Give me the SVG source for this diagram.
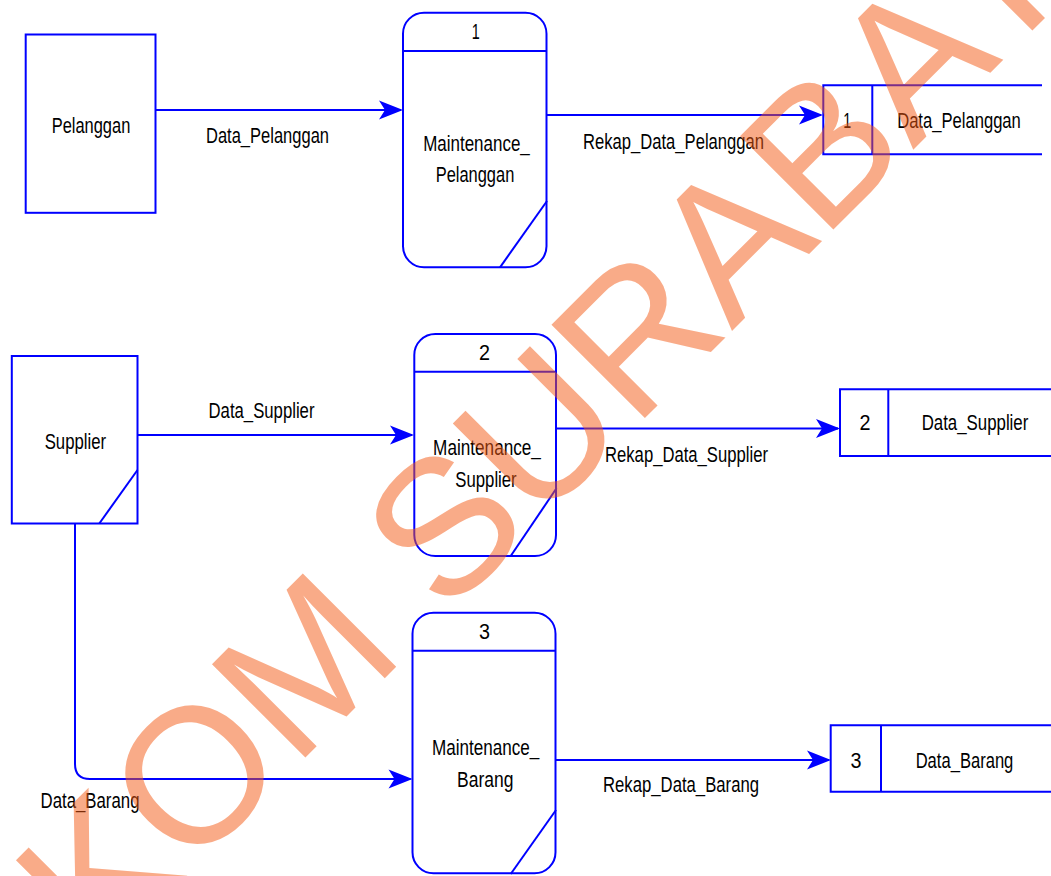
<svg xmlns="http://www.w3.org/2000/svg" width="1051" height="876" viewBox="0 0 1051 876">
<style>
.s{fill:none;stroke:#0000FF;stroke-width:2}
.f{fill:none;stroke:#0000FF;stroke-width:2}
.t{font-family:"Liberation Sans",Arial,sans-serif;font-size:22px;fill:#000;text-anchor:middle}
.wm{font-family:"Liberation Sans",Arial,sans-serif;font-size:192px;fill:#F55A14;opacity:0.5}
</style>
<defs>
<marker id="ah" viewBox="-26 -11 28 22" refX="-2" refY="0" markerWidth="28" markerHeight="22" markerUnits="userSpaceOnUse" orient="auto">
<path d="M0,0 L-24,-9.5 L-18,0 L-24,9.5 Z" fill="#0000FF"/>
</marker>
</defs>
<rect width="1051" height="876" fill="#fff"/>
<g id="connectors">
<path class="f" d="M155.5,110 H401" marker-end="url(#ah)"/>
<path class="f" d="M546.5,115 H821" marker-end="url(#ah)"/>
<path class="f" d="M137.5,435 H412" marker-end="url(#ah)"/>
<path class="f" d="M556,428.5 H838" marker-end="url(#ah)"/>
<path class="f" d="M75,523.5 V764 Q75,779 90,779 H410.5" marker-end="url(#ah)"/>
<path class="f" d="M555.5,760 H829" marker-end="url(#ah)"/>
<text class="t" x="267.5" y="143" textLength="123" lengthAdjust="spacingAndGlyphs">Data_Pelanggan</text>
<text class="t" x="673.5" y="148.5" textLength="181" lengthAdjust="spacingAndGlyphs">Rekap_Data_Pelanggan</text>
<text class="t" x="261.5" y="417.5" textLength="106" lengthAdjust="spacingAndGlyphs">Data_Supplier</text>
<text class="t" x="686.5" y="461.5" textLength="163" lengthAdjust="spacingAndGlyphs">Rekap_Data_Supplier</text>
<text class="t" x="90" y="807.5" textLength="99" lengthAdjust="spacingAndGlyphs">Data_Barang</text>
<text class="t" x="681" y="791.5" textLength="156" lengthAdjust="spacingAndGlyphs">Rekap_Data_Barang</text>
</g>
<g id="pelanggan">
<rect class="s" x="25.7" y="34.5" width="129.8" height="178.3"/>
<text class="t" x="91" y="133.3" textLength="78.6" lengthAdjust="spacingAndGlyphs">Pelanggan</text>
</g>
<g id="supplier">
<rect class="s" x="11.8" y="356" width="125.7" height="167.5"/>
<line class="s" x1="99.3" y1="523.5" x2="137.5" y2="470"/>
<text class="t" x="75.4" y="449.3" textLength="61.4" lengthAdjust="spacingAndGlyphs">Supplier</text>
</g>
<g id="proses1">
<rect class="s" x="403" y="12.7" width="143.5" height="254.6" rx="21" ry="21"/>
<line class="s" x1="403" y1="51" x2="546.5" y2="51"/>
<line class="s" x1="500" y1="267.3" x2="547" y2="201"/>
<text class="t" x="475.7" y="39.3" textLength="8" lengthAdjust="spacingAndGlyphs">1</text>
<text class="t" x="476.5" y="150.7" textLength="106.6" lengthAdjust="spacingAndGlyphs">Maintenance_</text>
<text class="t" x="475" y="181.7" textLength="78.6" lengthAdjust="spacingAndGlyphs">Pelanggan</text>
</g>
<g id="proses2">
<rect class="s" x="414.3" y="334" width="141.7" height="222" rx="21" ry="21"/>
<line class="s" x1="414.3" y1="371.7" x2="556" y2="371.7"/>
<line class="s" x1="510.7" y1="556" x2="556.5" y2="488.3"/>
<text class="t" x="484.6" y="360" textLength="11" lengthAdjust="spacingAndGlyphs">2</text>
<text class="t" x="487" y="455" textLength="107.8" lengthAdjust="spacingAndGlyphs">Maintenance_</text>
<text class="t" x="486" y="486.7" textLength="61.4" lengthAdjust="spacingAndGlyphs">Supplier</text>
</g>
<g id="proses3">
<rect class="s" x="412.5" y="612.7" width="143" height="260.6" rx="21" ry="21"/>
<line class="s" x1="412.5" y1="650.7" x2="555.5" y2="650.7"/>
<line class="s" x1="510.7" y1="874" x2="556" y2="810"/>
<text class="t" x="484.6" y="639.3" textLength="11" lengthAdjust="spacingAndGlyphs">3</text>
<text class="t" x="485.7" y="755" textLength="107.3" lengthAdjust="spacingAndGlyphs">Maintenance_</text>
<text class="t" x="485.3" y="786.7" textLength="56.4" lengthAdjust="spacingAndGlyphs">Barang</text>
</g>
<g id="store1">
<path class="s" d="M1042,85.3 H823.3 V154.3 H1042 M872.3,85.3 V154.3"/>
<text class="t" x="847.3" y="128.3" textLength="8" lengthAdjust="spacingAndGlyphs">1</text>
<text class="t" x="959" y="128.3" textLength="123.7" lengthAdjust="spacingAndGlyphs">Data_Pelanggan</text>
</g>
<g id="store2">
<path class="s" d="M1052,389.3 H840 V456 H1052 M888.3,389.3 V456"/>
<text class="t" x="865" y="430" textLength="11" lengthAdjust="spacingAndGlyphs">2</text>
<text class="t" x="975" y="430" textLength="106.7" lengthAdjust="spacingAndGlyphs">Data_Supplier</text>
</g>
<g id="store3">
<path class="s" d="M1052,725.3 H830.7 V791.7 H1052 M881,725.3 V791.7"/>
<text class="t" x="856" y="768.3" textLength="11" lengthAdjust="spacingAndGlyphs">3</text>
<text class="t" x="964.5" y="768.3" textLength="97.7" lengthAdjust="spacingAndGlyphs">Data_Barang</text>
</g>
<text class="wm" transform="translate(-113,1176) rotate(-45)">STIKOM SURABAYA</text>
</svg>
